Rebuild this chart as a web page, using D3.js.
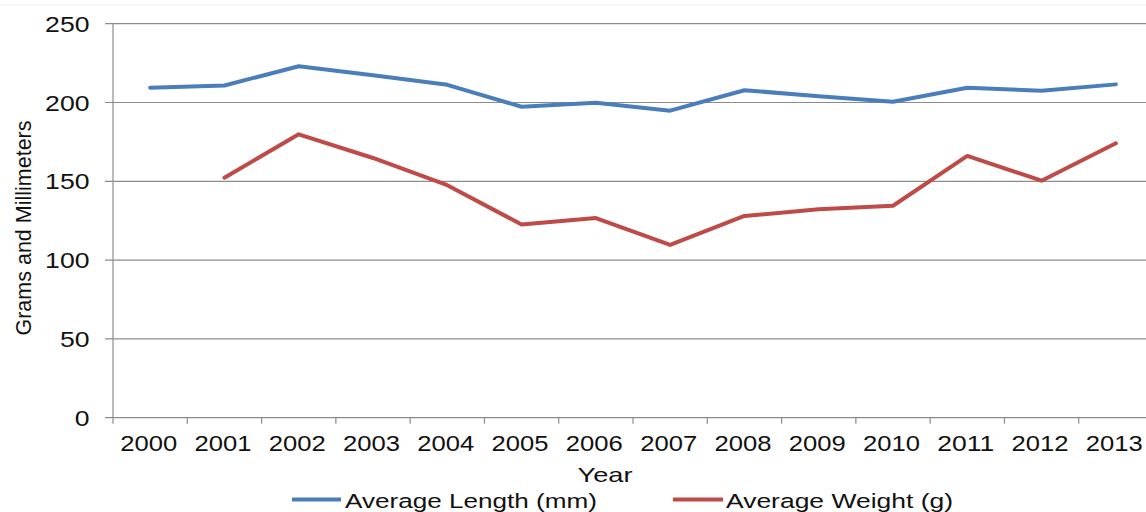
<!DOCTYPE html>
<html>
<head>
<meta charset="utf-8">
<script src="https://cdn.jsdelivr.net/npm/d3@7"></script>
<style>
  html, body { margin: 0; padding: 0; background: #fff; }
  svg { display: block; font-family: "Liberation Sans", Arial, sans-serif; }
</style>
</head>
<body>
<svg id="chart" width="1146" height="512"></svg>
<script>
// Yearly averages
const years = ["2000","2001","2002","2003","2004","2005","2006","2007","2008","2009","2010","2011","2012","2013"];
const avgLength = [209.4, 210.8, 223.0, 217.3, 211.2, 197.3, 199.8, 194.8, 207.8, 204.0, 200.5, 209.4, 207.5, 211.5];
const avgWeight = [null, 152.3, 179.8, 164.8, 147.5, 122.6, 126.7, 109.6, 128.0, 132.2, 134.5, 166.1, 150.4, 174.1];
const yTicks = [0, 50, 100, 150, 200, 250];
const seriesNames = ["Average Length (mm)", "Average Weight (g)"];
const seriesColors = ["#4a7ebb", "#be4b48"];

const svg = d3.select("#chart");
const plotLeft = 113, plotRight = 1153, plotTop = 23.7, plotBottom = 417.7;

const x = d3.scaleBand().domain(years).range([plotLeft, plotRight]);
const y = d3.scaleLinear().domain([0, 250]).range([plotBottom, plotTop]);

// faint outer frame edge
svg.append("line").attr("x1", 0).attr("x2", 1146).attr("y1", 5).attr("y2", 5)
  .attr("stroke", "#f0f0f0").attr("stroke-width", 1);

// horizontal gridlines with left tick marks
svg.append("g").selectAll("line").data(yTicks).join("line")
  .attr("x1", plotLeft - 8).attr("x2", plotRight)
  .attr("y1", d => y(d)).attr("y2", d => y(d))
  .attr("stroke", "#8c8c8c").attr("stroke-width", 1.2);

// y axis line
svg.append("line").attr("x1", plotLeft).attr("x2", plotLeft)
  .attr("y1", plotTop).attr("y2", plotBottom + 6)
  .attr("stroke", "#8c8c8c").attr("stroke-width", 1.2);

// category tick marks at band boundaries
svg.append("g").selectAll("line").data(years.slice(1)).join("line")
  .attr("x1", d => x(d)).attr("x2", d => x(d))
  .attr("y1", plotBottom).attr("y2", plotBottom + 6)
  .attr("stroke", "#8c8c8c").attr("stroke-width", 1.2);

// y tick labels
svg.append("g").selectAll("text").data(yTicks).join("text")
  .attr("x", 89.5).attr("y", d => y(d) + 8)
  .attr("text-anchor", "end")
  .attr("font-size", 22).attr("fill", "#111")
  .attr("textLength", d => String(d).length * 14.8)
  .attr("lengthAdjust", "spacingAndGlyphs")
  .text(d => d);

// x tick labels
svg.append("g").selectAll("text").data(years).join("text")
  .attr("x", d => x(d) + x.bandwidth() / 2 - 1.5).attr("y", 451)
  .attr("text-anchor", "middle")
  .attr("font-size", 22).attr("fill", "#111")
  .attr("textLength", 57)
  .attr("lengthAdjust", "spacingAndGlyphs")
  .text(d => d);

// axis titles
svg.append("text")
  .attr("x", 605).attr("y", 481.5)
  .attr("text-anchor", "middle")
  .attr("font-size", 21).attr("fill", "#111")
  .attr("textLength", 55).attr("lengthAdjust", "spacingAndGlyphs")
  .text("Year");

svg.append("text")
  .attr("transform", "translate(30.5,228) rotate(-90)")
  .attr("text-anchor", "middle")
  .attr("font-size", 21.5).attr("fill", "#111")
  .text("Grams and Millimeters");

// series lines
const line = d3.line()
  .defined(d => d.v != null)
  .x(d => x(d.year) + x.bandwidth() / 2)
  .y(d => y(d.v));

const series = [avgLength, avgWeight].map((vals, i) => ({
  name: seriesNames[i],
  color: seriesColors[i],
  points: years.map((yr, j) => ({ year: yr, v: vals[j] }))
}));

svg.append("g").selectAll("path").data(series).join("path")
  .attr("d", d => line(d.points))
  .attr("fill", "none")
  .attr("stroke", d => d.color)
  .attr("stroke-width", 4)
  .attr("stroke-linejoin", "round")
  .attr("stroke-linecap", "round");

// legend
const legendPos = [
  { lx1: 292, lx2: 341, tx: 345, tw: 252 },
  { lx1: 673, lx2: 723, tx: 726, tw: 227 }
];
const legend = svg.append("g").selectAll("g").data(series).join("g");
legend.append("line")
  .attr("x1", (d, i) => legendPos[i].lx1).attr("x2", (d, i) => legendPos[i].lx2)
  .attr("y1", 499.5).attr("y2", 499.5)
  .attr("stroke", d => d.color).attr("stroke-width", 4);
legend.append("text")
  .attr("x", (d, i) => legendPos[i].tx).attr("y", 507.5)
  .attr("font-size", 20.5).attr("fill", "#111")
  .attr("textLength", (d, i) => legendPos[i].tw)
  .attr("lengthAdjust", "spacingAndGlyphs")
  .text(d => d.name);
</script>
</body>
</html>
